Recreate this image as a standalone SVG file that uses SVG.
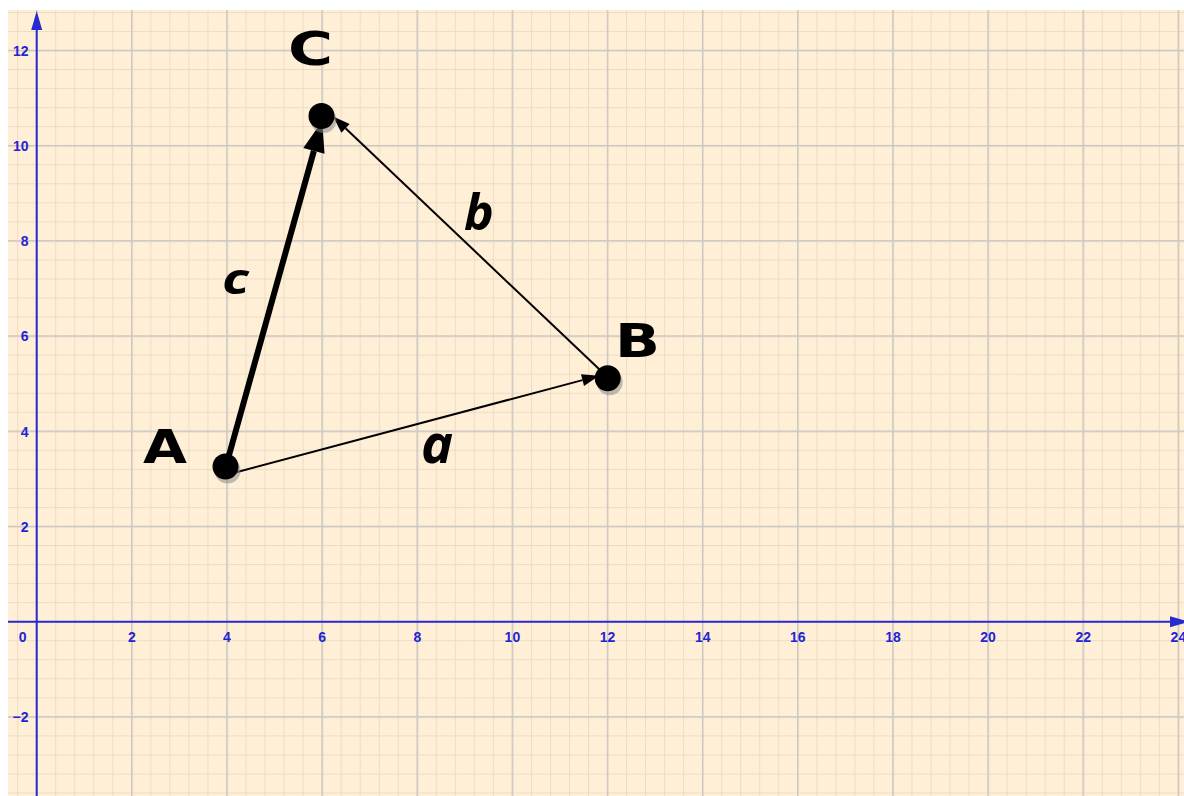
<svg xmlns="http://www.w3.org/2000/svg" width="1184" height="796" viewBox="0 0 1184 796">
<style>
.axl{font-family:"Liberation Sans",Arial,sans-serif;font-weight:bold;font-size:14px;fill:#2424d4}
.pl{font-family:"DejaVu Sans",sans-serif;font-weight:bold;font-size:46px;fill:#000}
.vl{font-family:"Open Sans","Noto Sans",sans-serif;font-weight:bold;font-style:italic;fill:#000}
.axis{stroke:#2a2ad2;stroke-width:2;fill:none}
.vec{stroke:#000;fill:none}
</style>
<defs>
<pattern id="minor" patternUnits="userSpaceOnUse" x="36.2" y="621.2" width="19.028" height="19.04">
<rect x="0" y="0" width="19.028" height="1" fill="#ecdcc6"/>
<rect x="0" y="0" width="1" height="19.04" fill="#ecdcc6"/>
</pattern>
<pattern id="major" patternUnits="userSpaceOnUse" x="35.95" y="620.95" width="95.14" height="95.2">
<rect x="0" y="0" width="95.14" height="1.5" fill="#cbc7c0"/>
<rect x="0" y="0" width="1.5" height="95.2" fill="#cbc7c0"/>
</pattern>
<marker id="headThin" markerUnits="userSpaceOnUse" markerWidth="20" markerHeight="14" refX="0" refY="7" orient="auto" overflow="visible">
<path d="M0,1 L17,7 L0,13 z" fill="#000"/>
</marker>
<marker id="headThick" markerUnits="userSpaceOnUse" markerWidth="32" markerHeight="24" refX="0" refY="12" orient="auto" overflow="visible">
<path d="M0,1 L31,12 L0,23 z" fill="#000"/>
</marker>
</defs>
<rect x="0" y="0" width="1184" height="796" fill="#ffffff"/>
<rect x="8" y="10" width="1176" height="786" fill="#feefd6"/>
<rect x="8" y="10" width="1176" height="786" fill="url(#minor)"/>
<rect x="8" y="10" width="1176" height="786" fill="url(#major)"/>

<g id="axes">
<line class="axis" x1="8" y1="621.7" x2="1170" y2="621.7"/>
<path d="M1170,616.2 L1189,621.7 L1170,627.2 z" fill="#2a2ad2"/>
<line class="axis" x1="36.7" y1="796" x2="36.7" y2="29"/>
<path d="M31.2,30 L36.7,11 L42.2,30 z" fill="#2a2ad2"/>
<text class="axl" x="22.7" y="642" text-anchor="middle">0</text>
<text class="axl" x="131.8" y="642" text-anchor="middle">2</text>
<text class="axl" x="227" y="642" text-anchor="middle">4</text>
<text class="axl" x="322.1" y="642" text-anchor="middle">6</text>
<text class="axl" x="417.3" y="642" text-anchor="middle">8</text>
<text class="axl" x="512.4" y="642" text-anchor="middle">10</text>
<text class="axl" x="607.5" y="642" text-anchor="middle">12</text>
<text class="axl" x="702.7" y="642" text-anchor="middle">14</text>
<text class="axl" x="797.8" y="642" text-anchor="middle">16</text>
<text class="axl" x="893" y="642" text-anchor="middle">18</text>
<text class="axl" x="988.1" y="642" text-anchor="middle">20</text>
<text class="axl" x="1083.2" y="642" text-anchor="middle">22</text>
<text class="axl" x="1178.4" y="642" text-anchor="middle">24</text>
<text class="axl" x="28.5" y="722" text-anchor="end">−2</text>
<text class="axl" x="28.5" y="531.8" text-anchor="end">2</text>
<text class="axl" x="28.5" y="436.6" text-anchor="end">4</text>
<text class="axl" x="28.5" y="341.4" text-anchor="end">6</text>
<text class="axl" x="28.5" y="246.2" text-anchor="end">8</text>
<text class="axl" x="28.5" y="151" text-anchor="end">10</text>
<text class="axl" x="28.5" y="55.8" text-anchor="end">12</text>
</g>

<g id="connectors">
<g id="vector-a">
<line class="vec" stroke-width="2" x1="226" y1="475" x2="582.5" y2="380.1" marker-end="url(#headThin)"/>
<text class="vl" x="421" y="463" font-size="54">a</text>
</g>
<g id="vector-b">
<line class="vec" stroke-width="2" x1="607.7" y1="377.3" x2="345.5" y2="128.3" marker-end="url(#headThin)"/>
<text class="vl" x="464" y="230" font-size="50">b</text>
</g>
<g id="vector-c">
<line class="vec" stroke-width="6" x1="226" y1="466" x2="313.9" y2="150.9" marker-end="url(#headThick)"/>
<text class="vl" x="222" y="294" font-size="43" textLength="27" lengthAdjust="spacingAndGlyphs">c</text>
</g>
</g>

<g id="node-A">
<circle cx="227.5" cy="470.5" r="13" fill="#8a8a8a" fill-opacity="0.55"/>
<circle cx="225.5" cy="466.5" r="13" fill="#000"/>
<text class="pl" x="143" y="463" textLength="44" lengthAdjust="spacingAndGlyphs">A</text>
</g>
<g id="node-B">
<circle cx="609.7" cy="382.3" r="13" fill="#8a8a8a" fill-opacity="0.55"/>
<circle cx="607.7" cy="378.3" r="13" fill="#000"/>
<text class="pl" x="615" y="357" textLength="45" lengthAdjust="spacingAndGlyphs">B</text>
</g>
<g id="node-C">
<circle cx="323.5" cy="120" r="13" fill="#8a8a8a" fill-opacity="0.55"/>
<circle cx="321.5" cy="116" r="13" fill="#000"/>
<text class="pl" x="288" y="65" textLength="45" lengthAdjust="spacingAndGlyphs">C</text>
</g>
</svg>
